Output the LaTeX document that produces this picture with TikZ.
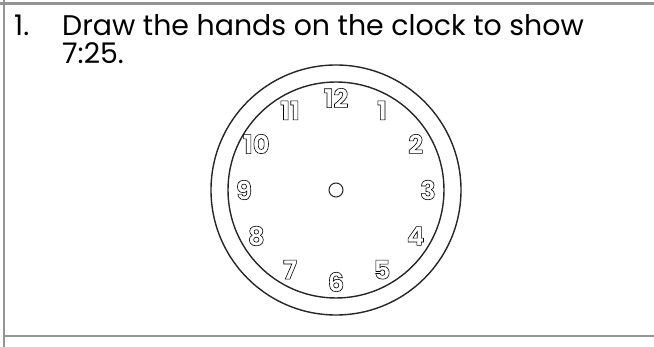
\documentclass[tikz,border=0pt]{standalone}
\usepackage{fontspec}
\setmainfont{Poppins}
\usetikzlibrary{calc}
\newcommand\hollow[1]{\special{pdf:literal direct 1 Tr 0.6 w}#1\special{pdf:literal direct 0 Tr}}
\tikzset{
  frame/.style={draw=black!42, line width=2.5pt},
  ring/.style={draw=black!85, line width=1.4pt},
  numeral/.style={font=\fontsize{26}{26}\selectfont\bfseries, inner sep=0pt},
  task/.style={font=\fontsize{28.4}{28}\selectfont, inner sep=0pt, anchor=base west}
}
\begin{document}
\begin{tikzpicture}[x=1pt,y=1pt]
\useasboundingbox (0,0) rectangle (654,347);
% border of the box
\draw[frame] (0,343.5) -- (654,343.5);
\draw[frame] (4,347) -- (4,0);
\draw[frame] (5,11) -- (654,11);
% question
\node[task] (num) at (14,311) {1.};
\node[task] (txt) at (62,311) {Draw the hands on the clock to show};
\node[task] (time) at (62,283) {7:25.};
% clock face
\coordinate (c) at (336,157);
\draw[ring] (c) circle (125);
\draw[ring] (c) circle (108);
\draw[ring, line width=1pt] (c) circle (7);
\foreach \i in {1,...,12}{
  \node[numeral] (n\i) at ($(c)+(90-30*\i:92)$) {\hollow{\i}};
}
\end{tikzpicture}
\end{document}
